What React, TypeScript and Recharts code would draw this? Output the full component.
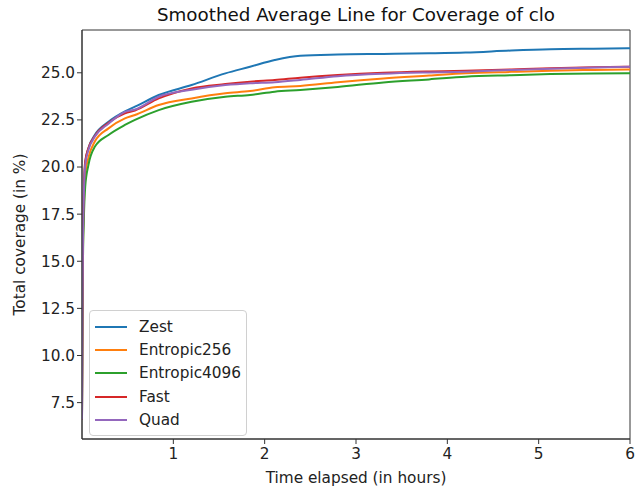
import React from 'react';
import { LineChart, Line, XAxis, YAxis, Legend, Label, ReferenceArea } from 'recharts';

const hours = [0, 0.005, 0.01, 0.02, 0.035, 0.07, 0.14, 0.29, 0.47, 0.58, 0.84, 1.2, 1.57, 1.84, 2.11, 2.39, 2.8, 3.3, 3.8, 4.2, 4.7, 5.13, 5.6, 6.0];

const zest = [6.6, 13, 16, 18.5, 20.2, 21.0, 21.7, 22.4, 22.95, 23.2, 23.82, 24.35, 24.97, 25.32, 25.68, 25.91, 25.97, 26.0, 26.03, 26.07, 26.18, 26.25, 26.28, 26.3];
const entropic256 = [6.6, 12, 15.3, 17.8, 19.6, 20.5, 21.35, 22.05, 22.58, 22.76, 23.29, 23.64, 23.91, 24.03, 24.23, 24.3, 24.5, 24.7, 24.85, 24.97, 25.05, 25.11, 25.15, 25.18];
const entropic4096 = [6.6, 11.5, 14.8, 17.2, 18.95, 20.1, 21.07, 21.7, 22.23, 22.5, 23.02, 23.46, 23.73, 23.82, 24.0, 24.09, 24.25, 24.49, 24.65, 24.79, 24.87, 24.93, 24.96, 24.97];
const fast = [6.6, 13, 16.2, 18.7, 20.3, 21.0, 21.65, 22.35, 22.85, 23.0, 23.64, 24.17, 24.4, 24.53, 24.62, 24.74, 24.88, 25.0, 25.07, 25.11, 25.18, 25.24, 25.29, 25.32];
const quad = [6.6, 12.5, 15.8, 18.4, 20.1, 20.9, 21.6, 22.3, 22.93, 23.05, 23.73, 24.1, 24.35, 24.45, 24.5, 24.62, 24.82, 24.95, 25.02, 25.06, 25.15, 25.22, 25.28, 25.32];

const xTicks = [1, 2, 3, 4, 5, 6];
const yTicks = [7.5, 10, 12.5, 15, 17.5, 20, 22.5, 25];
const yDomain = [5.57, 27.27];

const series = [
  { key: 'Zest', values: zest, color: '#1f77b4' },
  { key: 'Entropic256', values: entropic256, color: '#ff7f0e' },
  { key: 'Entropic4096', values: entropic4096, color: '#2ca02c' },
  { key: 'Fast', values: fast, color: '#d62728' },
  { key: 'Quad', values: quad, color: '#9467bd' },
];

const data = hours.map((h, i) => {
  const row: any = { h };
  series.forEach((s) => (row[s.key] = s.values[i]));
  return row;
});

const font = 'DejaVu Sans, sans-serif';
const axisColor = '#333';
const fs = 15.3;

function LegendBox() {
  return (
    <div
      style={{
        border: '1px solid #d0d0d0',
        borderRadius: 4,
        background: 'rgba(255,255,255,0.8)',
        padding: '4px 0 4px 5px',
        width: 158,
        boxSizing: 'border-box',
        fontFamily: font,
        fontSize: fs,
        color: '#222',
      }}
    >
      {series.map((s) => (
        <div key={s.key} style={{ display: 'flex', alignItems: 'center', height: 23.3 }}>
          <span style={{ width: 32, height: 2, background: s.color, display: 'inline-block', marginRight: 12 }} />
          <span>{s.key}</span>
        </div>
      ))}
    </div>
  );
}

export default function App() {
  return (
    <div style={{ position: 'absolute', left: 0, top: 0, width: 637, height: 495, background: '#fff' }}>
      <LineChart width={637} height={495} data={data} margin={{ top: 30, right: 7, bottom: 0, left: 0 }}>
        <text x={356} y={21} textAnchor="middle" fontFamily={font} fontSize={18.3} fill="#111">
          Smoothed Average Line for Coverage of clo
        </text>
        <XAxis
          dataKey="h"
          type="number"
          domain={[0, 6]}
          ticks={xTicks}
          allowDataOverflow
          height={56}
          stroke={axisColor}
          tickSize={5}
          tick={{ fontFamily: font, fontSize: fs, fill: '#222', dy: 2 }}
        >
          <Label value="Time elapsed (in hours)" position="insideBottom" offset={12} style={{ fontFamily: font, fontSize: fs, fill: '#222' }} />
        </XAxis>
        <YAxis
          type="number"
          domain={yDomain}
          ticks={yTicks}
          allowDataOverflow
          width={82}
          stroke={axisColor}
          tickSize={5}
          tickFormatter={(v: number) => v.toFixed(1)}
          tick={{ fontFamily: font, fontSize: fs, fill: '#222' }}
        >
          <Label value="Total coverage (in %)" angle={-90} position="insideLeft" offset={20} style={{ fontFamily: font, fontSize: fs, fill: '#222', textAnchor: 'middle' }} />
        </YAxis>
        <ReferenceArea x1={0} x2={6} y1={yDomain[0]} y2={yDomain[1]} fill="none" stroke={axisColor} strokeWidth={1} ifOverflow="visible" />
        <Legend
          layout="vertical"
          align="center"
          verticalAlign="middle"
          content={() => <LegendBox />}
          wrapperStyle={{ position: 'absolute', left: 89, top: 310, width: 158, height: 122 }}
        />
        {series.map((s) => (
          <Line
            key={s.key}
            dataKey={s.key}
            stroke={s.color}
            strokeWidth={2}
            dot={false}
            type="monotone"
            isAnimationActive={false}
          />
        ))}
      </LineChart>
    </div>
  );
}
